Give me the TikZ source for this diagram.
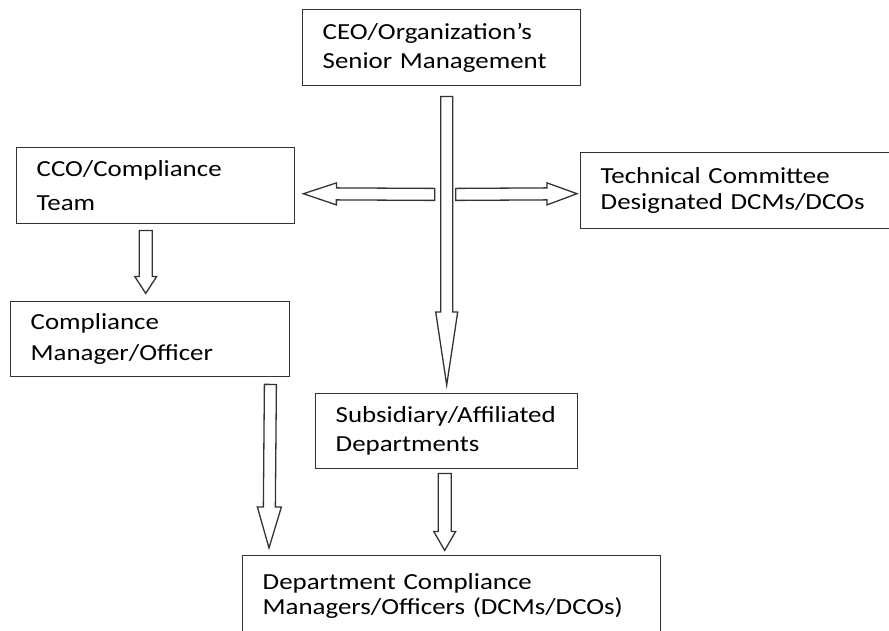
\documentclass[tikz,border=0pt]{standalone}
\usepackage{fontspec}
\setmainfont[FakeStretch=1.17]{Carlito}
\usetikzlibrary{calc}

% hollow block arrow: start, end, half shaft, half head, head length
\newcommand{\hollowarrow}[5]{%
  \draw[arrowline] let \p1=(#1), \p2=(#2),
    \n1={atan2(\y2-\y1,\x2-\x1)}, \n2={veclen(\x2-\x1,\y2-\y1)} in
    [shift={(\p1)}, rotate=\n1]
    (0,#3) -- ({\n2-#5},#3) -- ({\n2-#5},#4) -- (\n2,0)
    -- ({\n2-#5},-#4) -- ({\n2-#5},-#3) -- (0,-#3) -- cycle;
}

\begin{document}
\begin{tikzpicture}[x=1pt, y=-1pt,
  box/.style={draw=black!80, line width=1.4pt, anchor=north west, align=left,
    inner xsep=20pt, inner ysep=0pt, font=\fontsize{23}{29}\selectfont},
  arrowline/.style={draw=black!80, line width=1.3pt, fill=white}]
\useasboundingbox (0,0) rectangle (889,630);

\node[box, text width=238pt, minimum height=76pt] (ceo) at (302,9) {CEO/Organization's\\Senior Management};
\node[box, text width=238pt, minimum height=76pt, font=\fontsize{23}{34}\selectfont] (cco) at (16,147) {CCO/Compliance\\Team};
\node[box, text width=275pt, minimum height=76pt, font=\fontsize{23}{26}\selectfont] (tech) at (580,152) {Technical Committee\\Designated DCMs/DCOs};
\node[box, text width=239pt, minimum height=75pt, font=\fontsize{23}{31}\selectfont] (comp) at (10,301) {Compliance\\Manager/Officer};
\node[box, text width=222pt, minimum height=75pt] (sub) at (315,393) {Subsidiary/Affiliated\\Departments};
\node[box, text width=378pt, minimum height=80pt, font=\fontsize{23}{25}\selectfont] (dept) at (242,555) {Department Compliance\\Managers/Officers (DCMs/DCOs)};

\coordinate (hub) at ($(ceo.south)+(5,108)$);

\hollowarrow{$(ceo.south)+(5,10)$}{$(sub.north)+(0,-8)$}{6}{11}{73}
\hollowarrow{$(hub)+(-12,0)$}{$(cco.east)+(8,8)$}{6}{11}{33}
\hollowarrow{$(hub)+(9,0)$}{$(tech.west)+(-3,3)$}{6}{11}{30}
\hollowarrow{$(cco.south)+(-10,6)$}{$(cco.south)+(-10,69)$}{6.5}{11}{17}
\hollowarrow{$(comp.south east)+(-20,7)$}{$(dept.north west)+(27,-7)$}{6}{12}{41}
\hollowarrow{$(sub.south)+(-2,4)$}{$(sub.south)+(-2,81)$}{6.5}{11}{19}
\end{tikzpicture}
\end{document}
